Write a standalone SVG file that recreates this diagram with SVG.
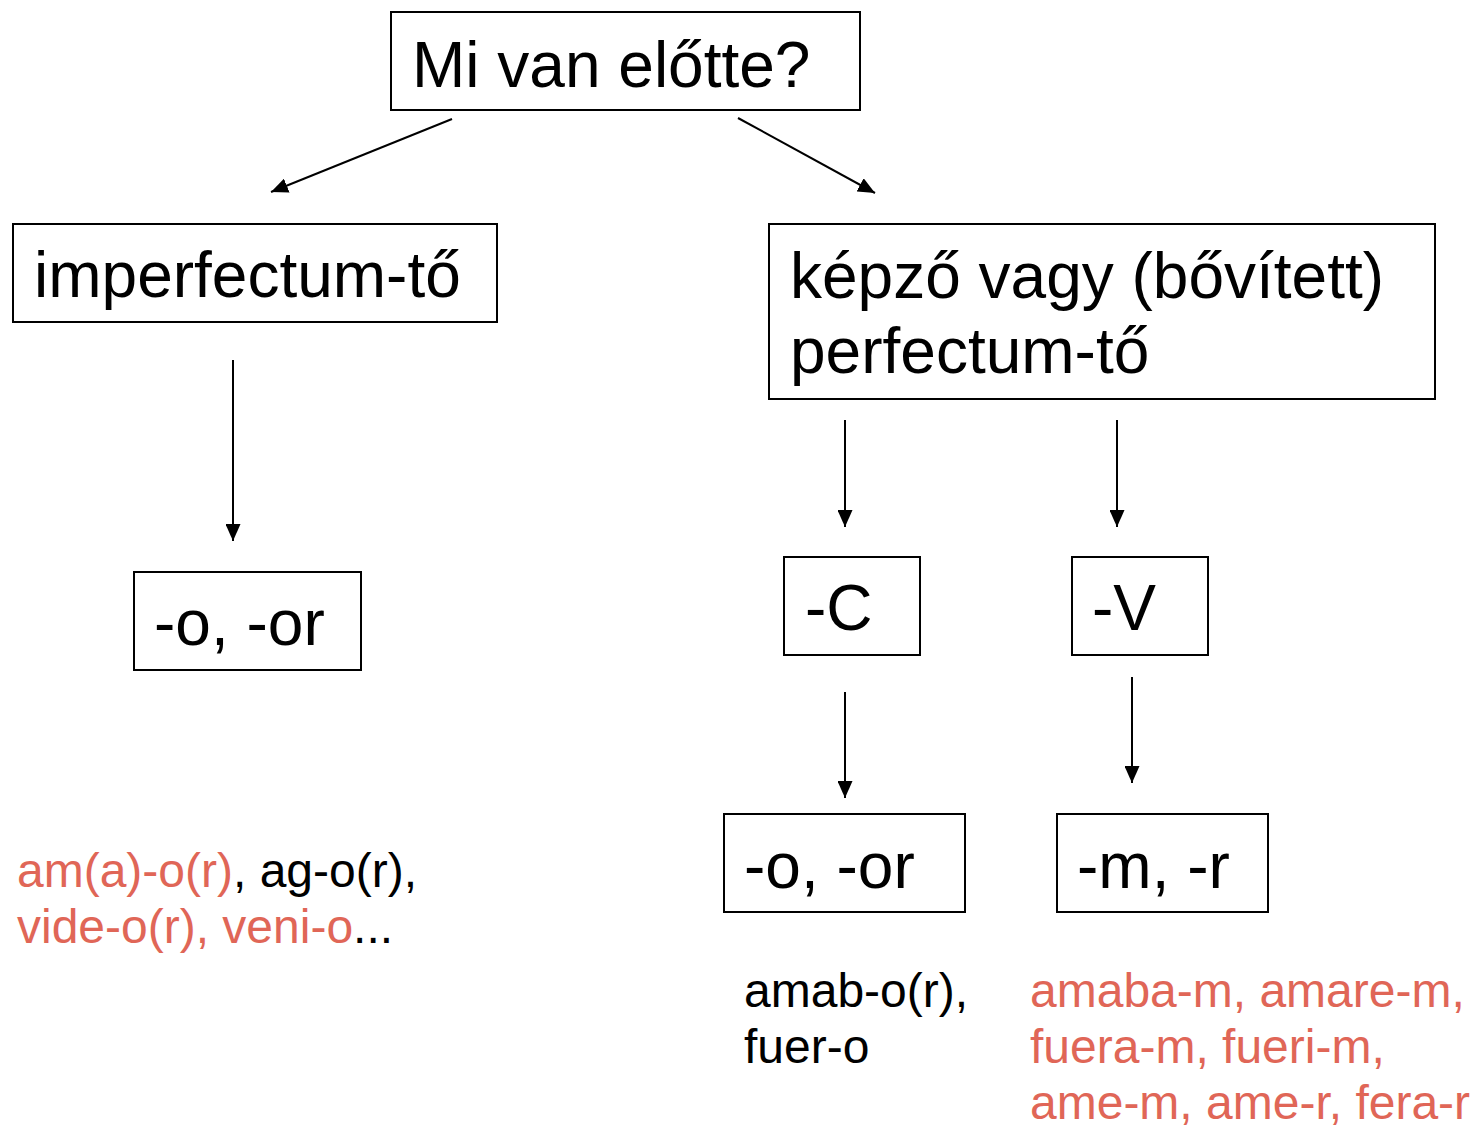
<svg xmlns="http://www.w3.org/2000/svg" width="1477" height="1127" viewBox="0 0 1477 1127">
<defs>
<style>
.box{fill:#fff;stroke:#000;stroke-width:2}
.t{font-family:"Liberation Sans",Arial,sans-serif;font-size:64px;fill:#000}
.s{font-family:"Liberation Sans",Arial,sans-serif;font-size:48px;fill:#000}
.r{fill:#E06657}
.c{stroke:#000;stroke-width:2;fill:none;marker-end:url(#ah)}
</style>
<marker id="ah" markerUnits="userSpaceOnUse" markerWidth="17" markerHeight="15" refX="17" refY="7.5" orient="auto">
<path d="M0,0 L17,7.5 L0,15 Z" fill="#000"/>
</marker>
</defs>
<rect width="1477" height="1127" fill="#fff"/>
<g id="connectors">
<line class="c" x1="452" y1="119" x2="271" y2="192"/>
<line class="c" x1="738" y1="118" x2="875" y2="193"/>
<line class="c" x1="233" y1="360" x2="233" y2="541"/>
<line class="c" x1="845" y1="420" x2="845" y2="527"/>
<line class="c" x1="1117" y1="420" x2="1117" y2="527"/>
<line class="c" x1="845" y1="692" x2="845" y2="798"/>
<line class="c" x1="1132" y1="677" x2="1132" y2="783"/>
</g>
<g id="n-top">
<rect class="box" x="391" y="12" width="469" height="98"/>
<text class="t" x="412" y="87">Mi van előtte?</text>
</g>
<g id="n-imperf">
<rect class="box" x="13" y="224" width="484" height="98"/>
<text class="t" x="34" y="297">imperfectum-tő</text>
</g>
<g id="n-kepzo">
<rect class="box" x="769" y="224" width="666" height="175"/>
<text class="t" x="790" y="298">képző vagy (bővített)</text>
<text class="t" x="790" y="373">perfectum-tő</text>
</g>
<g id="n-o-left">
<rect class="box" x="134" y="572" width="227" height="98"/>
<text class="t" x="154" y="645">-o, -or</text>
</g>
<g id="n-C">
<rect class="box" x="784" y="557" width="136" height="98"/>
<text class="t" x="805" y="630">-C</text>
</g>
<g id="n-V">
<rect class="box" x="1072" y="557" width="136" height="98"/>
<text class="t" x="1092" y="630">-V</text>
</g>
<g id="n-o-right">
<rect class="box" x="724" y="814" width="241" height="98"/>
<text class="t" x="744" y="888">-o, -or</text>
</g>
<g id="n-m-r">
<rect class="box" x="1057" y="814" width="211" height="98"/>
<text class="t" x="1077" y="888">-m, -r</text>
</g>
<g id="ex-left">
<text class="s" x="17" y="887"><tspan class="r">am(a)-o(r)</tspan>, ag-o(r),</text>
<text class="s" x="17" y="943"><tspan class="r">vide-o(r), veni-o</tspan>...</text>
</g>
<g id="ex-mid">
<text class="s" x="744" y="1007">amab-o(r),</text>
<text class="s" x="744" y="1063">fuer-o</text>
</g>
<g id="ex-right">
<text class="s r" x="1030" y="1007">amaba-m, amare-m,</text>
<text class="s r" x="1030" y="1063">fuera-m, fueri-m,</text>
<text class="s r" x="1030" y="1119">ame-m, ame-r, fera-r</text>
</g>
</svg>
